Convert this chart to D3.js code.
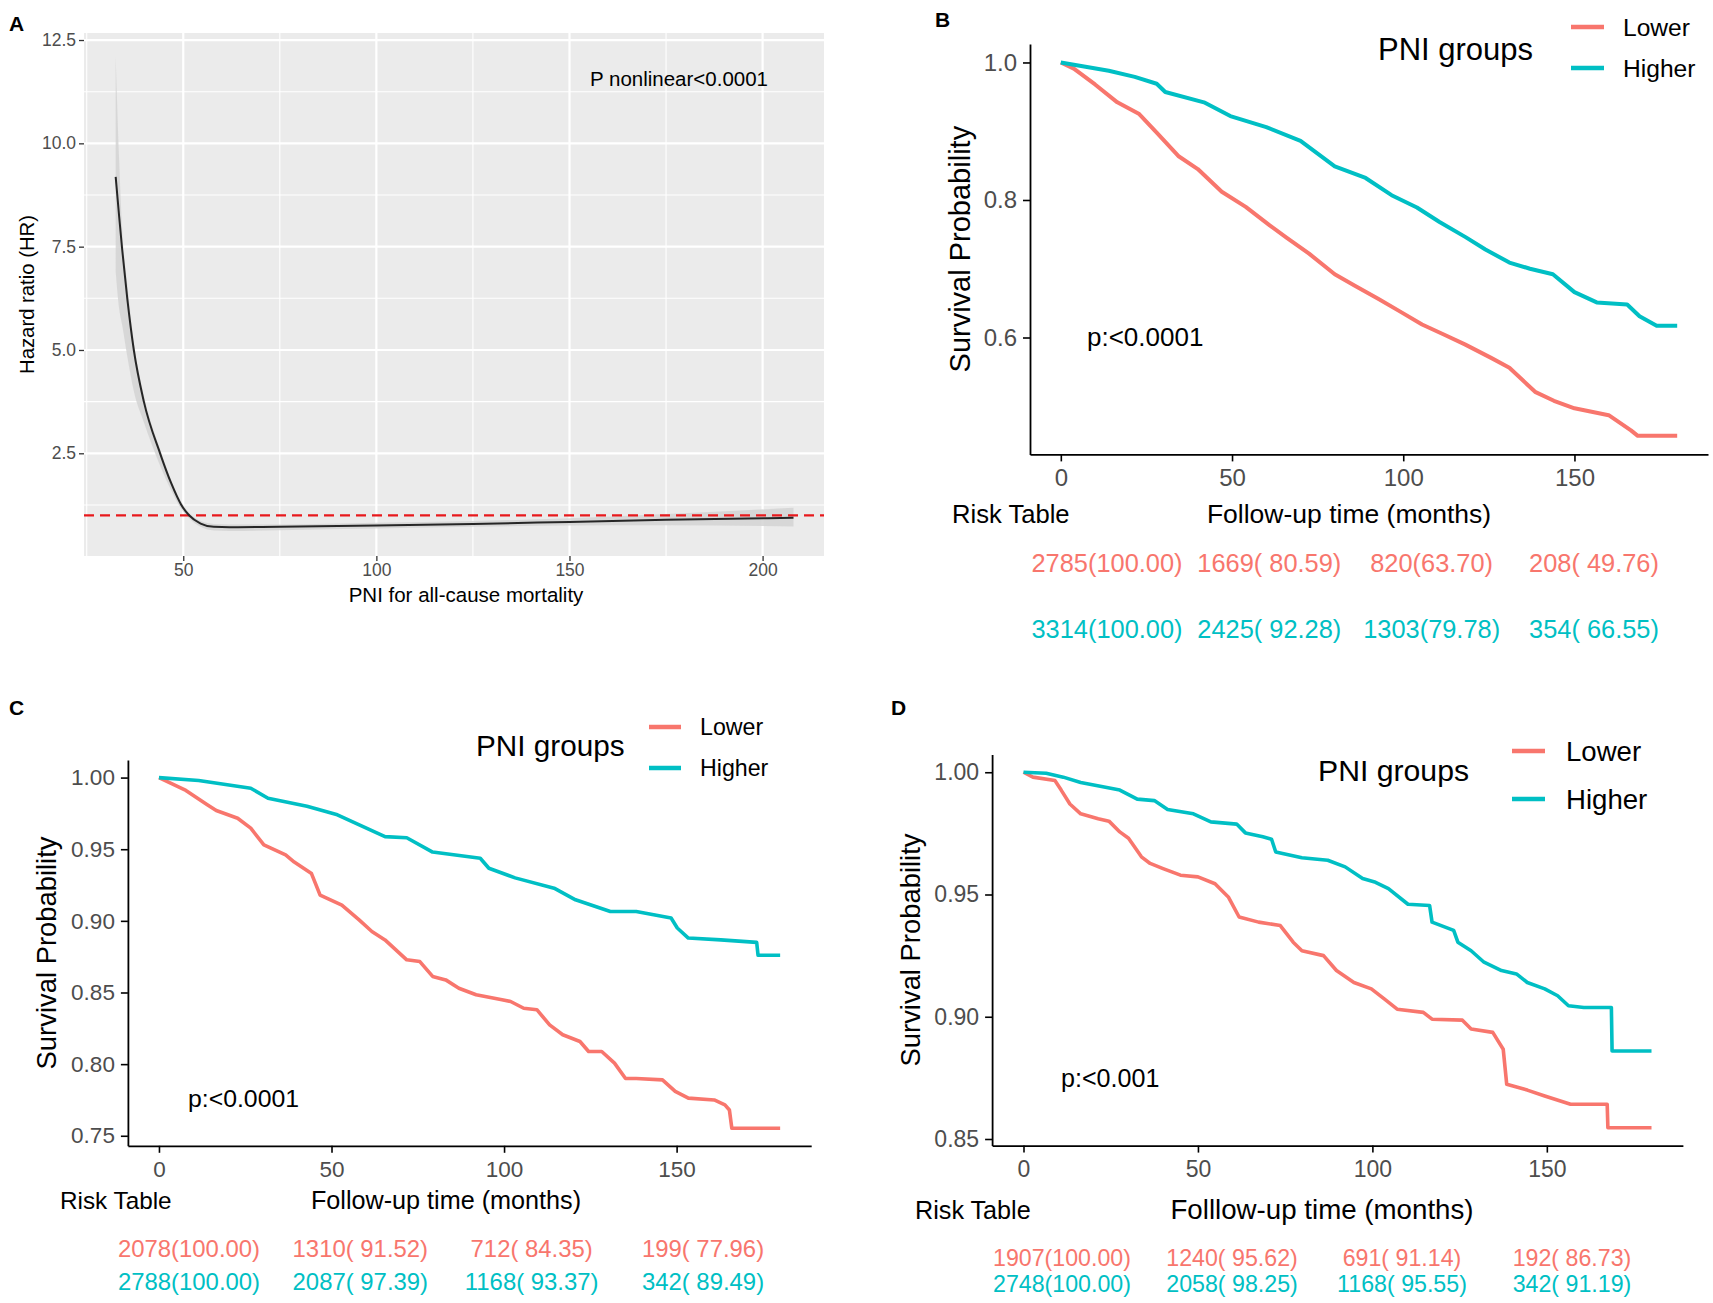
<!DOCTYPE html>
<html lang="en">
<head>
<meta charset="utf-8">
<title>PNI and mortality</title>
<style>
  body { margin: 0; background: #fff; }
  svg text { font-family: "Liberation Sans", Arial, Helvetica, sans-serif; }
</style>
</head>
<body>
<div id="chart"></div>
<script src="https://d3js.org/d3.v7.min.js"></script>
<script>
// ---------- panel A: restricted cubic spline, HR vs PNI ----------
const pniX   = [32.5, 33.4, 34.2, 35.5, 37.2, 39.8, 44.0, 46.9, 49.5, 51.5, 54.5, 57.9, 62, 75, 100, 125, 150, 175, 208];
const hrFit  = [9.19, 8.23, 7.42, 6.25, 5.0, 3.75, 2.5, 1.77, 1.25, 1.0, 0.80, 0.72, 0.71, 0.72, 0.75, 0.79, 0.84, 0.89, 0.94];
const hrLow  = [6.9, 6.0, 5.6, 4.85, 4.0, 3.25, 2.2, 1.6, 1.15, 0.93, 0.72, 0.63, 0.62, 0.64, 0.68, 0.72, 0.75, 0.76, 0.73];
const hrHigh = [12.1, 9.6, 7.9, 6.6, 5.2, 3.9, 2.6, 1.85, 1.32, 1.06, 0.86, 0.79, 0.78, 0.78, 0.82, 0.86, 0.93, 1.03, 1.18];
const aTicksX = [50, 100, 150, 200];
const aTicksY = [2.5, 5.0, 7.5, 10.0, 12.5];

// ---------- panel B: all-cause ----------
const bLowT  = [0, 3.8, 10, 16.5, 22.9, 28, 34.3, 40, 47, 54, 61, 66, 72.5, 80, 86, 92.8, 99, 105.5, 112, 118, 125.8, 131, 138.5, 144, 150, 160, 166.5, 168.5, 180];
const bLowS  = [1, 0.991, 0.968, 0.942, 0.925, 0.898, 0.864, 0.845, 0.812, 0.790, 0.763, 0.745, 0.722, 0.692, 0.675, 0.656, 0.638, 0.619, 0.604, 0.590, 0.570, 0.556, 0.521, 0.508, 0.497, 0.487, 0.465, 0.457, 0.457];
const bHighT = [0, 14, 21.6, 28, 30.5, 41.8, 49.5, 60, 70, 80, 89, 96.6, 104, 110.6, 118.2, 124, 131, 137, 143.7, 150, 156.5, 165.4, 169, 174, 180];
const bHighS = [1, 0.988, 0.979, 0.969, 0.957, 0.942, 0.922, 0.906, 0.886, 0.849, 0.832, 0.807, 0.789, 0.768, 0.746, 0.728, 0.709, 0.700, 0.692, 0.666, 0.651, 0.648, 0.631, 0.617, 0.617];

// ---------- panel C ----------
const cLowT  = [0, 7.8, 14, 16.6, 22.8, 26.6, 30.4, 36.7, 39.2, 44.2, 46.7, 53, 58, 61.7, 65.5, 71.8, 75.6, 79.3, 83.1, 86.9, 91.9, 99.4, 101.9, 105.7, 109.5, 113.2, 117, 122, 124.5, 128.3, 132, 135.2, 138.3, 145.9, 149.6, 153.4, 160.9, 164, 165.3, 166, 180];
const cLowS  = [1, 0.991, 0.981, 0.977, 0.9716, 0.9647, 0.953, 0.946, 0.941, 0.933, 0.918, 0.911, 0.9007, 0.8926, 0.8867, 0.8728, 0.8716, 0.8612, 0.8588, 0.853, 0.8484, 0.845, 0.8437, 0.839, 0.838, 0.8274, 0.8205, 0.8158, 0.8088, 0.8088, 0.8007, 0.790, 0.790, 0.789, 0.781, 0.7763, 0.775, 0.7716, 0.768, 0.7553, 0.7553];
const cHighT = [0, 11.5, 26.6, 31.6, 42.9, 51.7, 65.5, 71.8, 79.3, 93.1, 95.6, 103.2, 114.5, 120.7, 130.8, 138.3, 148.4, 150.2, 153.4, 162.8, 173.2, 173.6, 180];
const cHighS = [1, 0.998, 0.9926, 0.9856, 0.980, 0.974, 0.9588, 0.958, 0.948, 0.9437, 0.9367, 0.930, 0.9228, 0.9147, 0.9065, 0.9065, 0.902, 0.895, 0.888, 0.8867, 0.885, 0.876, 0.876];

// ---------- panel D ----------
const dLowT  = [0, 2.7, 9, 10.8, 13.3, 16.4, 21.4, 24.5, 27.6, 30.1, 33.8, 36.3, 40, 45, 50, 54.9, 58.7, 61.8, 67.4, 73.6, 77.3, 79.8, 86, 89.7, 94.7, 99.7, 103.4, 107.1, 114.6, 117.1, 125.8, 128.3, 134.5, 137.5, 138.5, 144.4, 149.4, 156.8, 167.3, 167.5, 180];
const dLowS  = [1, 0.998, 0.9966, 0.9927, 0.987, 0.983, 0.981, 0.980, 0.9756, 0.973, 0.9654, 0.9627, 0.9606, 0.9579, 0.9572, 0.9544, 0.949, 0.9408, 0.9387, 0.9373, 0.9305, 0.927, 0.925, 0.9189, 0.914, 0.9114, 0.9073, 0.9031, 0.9018, 0.899, 0.8986, 0.895, 0.8936, 0.8867, 0.8724, 0.870, 0.8676, 0.8642, 0.8642, 0.8546, 0.8546];
const dHighT = [0, 6.5, 11.4, 16.4, 27.6, 32.6, 37.5, 41.3, 48.7, 53.7, 61.1, 63.6, 68.6, 71.1, 72.3, 79.8, 87.2, 92.2, 97.2, 100.9, 104.6, 110.2, 116.4, 117.1, 123.3, 124.5, 128.3, 132, 137, 141.3, 144.4, 149.4, 153.1, 156.2, 160.6, 168.5, 168.7, 180];
const dHighS = [1, 0.9996, 0.998, 0.9958, 0.9927, 0.989, 0.9884, 0.9848, 0.983, 0.9797, 0.9788, 0.9752, 0.9736, 0.9726, 0.9674, 0.965, 0.964, 0.9613, 0.9565, 0.955, 0.9524, 0.946, 0.9455, 0.9387, 0.9353, 0.9305, 0.927, 0.9223, 0.9189, 0.9175, 0.914, 0.9114, 0.9086, 0.9045, 0.9038, 0.9038, 0.886, 0.886];

// risk tables
const riskTimes = [0, 50, 100, 150];
const bLowRisk  = ["2785(100.00)", "1669( 80.59)", "820(63.70)", "208( 49.76)"];
const bHighRisk = ["3314(100.00)", "2425( 92.28)", "1303(79.78)", "354( 66.55)"];
const cLowRisk  = ["2078(100.00)", "1310( 91.52)", "712( 84.35)", "199( 77.96)"];
const cHighRisk = ["2788(100.00)", "2087( 97.39)", "1168( 93.37)", "342( 89.49)"];
const dLowRisk  = ["1907(100.00)", "1240( 95.62)", "691( 91.14)", "192( 86.73)"];
const dHighRisk = ["2748(100.00)", "2058( 98.25)", "1168( 95.55)", "342( 91.19)"];
const groups = ["Lower", "Higher"];

const RED = "#F8766D", TEAL = "#00BFC4";
const W = 1713, H = 1303;

const svg = d3.select("#chart").append("svg")
    .attr("width", W).attr("height", H);
svg.append("rect").attr("width", W).attr("height", H).attr("fill", "#fff");

function zip(xs, ys) { return xs.map((v, i) => [v, ys[i]]); }

function label(g, txt, x, y, size, opts) {
    opts = opts || {};
    return g.append("text")
        .attr("x", x).attr("y", y).attr("dy", "0.35em")
        .attr("font-size", size)
        .attr("text-anchor", opts.anchor || "start")
        .attr("font-weight", opts.bold ? "bold" : null)
        .attr("fill", opts.fill || "#000")
        .attr("transform", opts.rotate ? `rotate(-90,${x},${y})` : null)
        .style("white-space", "pre")
        .text(txt);
}

// panel letters
label(svg, "A", 9, 24, 21, {bold: true});
label(svg, "B", 935, 20, 21, {bold: true});
label(svg, "C", 9, 708, 21, {bold: true});
label(svg, "D", 891, 708, 21, {bold: true});

// ================= panel A =================
(function () {
    const L = 84, R = 824, T = 33, B = 556;
    const x = d3.scaleLinear().domain([24.3, 215.9]).range([L, R]);
    const y = d3.scaleLinear().domain([0.015, 12.67]).range([B, T]);
    const g = svg.append("g");

    g.append("rect").attr("x", L).attr("y", T)
        .attr("width", R - L).attr("height", B - T).attr("fill", "#EBEBEB");

    const minorX = [25, 75, 125, 175], minorY = [1.25, 3.75, 6.25, 8.75, 11.25];
    g.selectAll(".mnx").data(minorX).enter().append("line")
        .attr("x1", d => x(d)).attr("x2", d => x(d)).attr("y1", T).attr("y2", B)
        .attr("stroke", "#fff").attr("stroke-width", 1.1);
    g.selectAll(".mny").data(minorY).enter().append("line")
        .attr("y1", d => y(d)).attr("y2", d => y(d)).attr("x1", L).attr("x2", R)
        .attr("stroke", "#fff").attr("stroke-width", 1.1);
    g.selectAll(".mjx").data(aTicksX).enter().append("line")
        .attr("x1", d => x(d)).attr("x2", d => x(d)).attr("y1", T).attr("y2", B)
        .attr("stroke", "#fff").attr("stroke-width", 2.2);
    g.selectAll(".mjy").data(aTicksY).enter().append("line")
        .attr("y1", d => y(d)).attr("y2", d => y(d)).attr("x1", L).attr("x2", R)
        .attr("stroke", "#fff").attr("stroke-width", 2.2);

    // confidence band
    const band = d3.area()
        .x(d => x(d[0])).y0(d => y(d[1])).y1(d => y(d[2]))
        .curve(d3.curveMonotoneX);
    g.append("path")
        .datum(pniX.map((v, i) => [v, hrLow[i], hrHigh[i]]))
        .attr("d", band).attr("fill", "#D3D3D3").attr("opacity", 0.85);

    // reference line HR = 1
    g.append("line").attr("x1", L).attr("x2", R)
        .attr("y1", y(1)).attr("y2", y(1))
        .attr("stroke", "#E8191C").attr("stroke-width", 2.2)
        .attr("stroke-dasharray", "10,6");

    const fit = d3.line().x(d => x(d[0])).y(d => y(d[1])).curve(d3.curveMonotoneX);
    g.append("path").datum(zip(pniX, hrFit)).attr("d", fit)
        .attr("fill", "none").attr("stroke", "#262626").attr("stroke-width", 2);

    const xa = g.append("g").attr("transform", `translate(0,${B})`)
        .call(d3.axisBottom(x).tickValues(aTicksX).tickSize(5).tickPadding(3).tickFormat(d3.format("d")));
    const ya = g.append("g").attr("transform", `translate(${L},0)`)
        .call(d3.axisLeft(y).tickValues(aTicksY).tickSize(5).tickPadding(3).tickFormat(d3.format(".1f")));
    [xa, ya].forEach(a => {
        a.select(".domain").remove();
        a.selectAll("line").attr("stroke", "#333").attr("stroke-width", 1.3);
        a.selectAll("text").attr("font-size", 17.5).attr("fill", "#4D4D4D");
    });

    label(g, "Hazard ratio (HR)", 27, (T + B) / 2, 20.3, {anchor: "middle", rotate: true});
    label(g, "PNI for all-cause mortality", 466, 595, 20.5, {anchor: "middle"});
    label(g, "P nonlinear<0.0001", 590, 79, 20.5);
})();

// ================= Kaplan-Meier panels =================
function kmPanel(c) {
    const x = d3.scaleLinear().domain([-9, 189]).range(c.xRange);
    const y = d3.scaleLinear().domain(c.yDomain).range(c.yRange);
    const g = svg.append("g");
    const line = d3.line().x(d => x(d[0])).y(d => y(d[1]));

    g.append("path").datum(zip(c.lowT, c.lowS)).attr("d", line)
        .attr("fill", "none").attr("stroke", RED).attr("stroke-width", c.lw)
        .attr("stroke-linejoin", "round");
    g.append("path").datum(zip(c.highT, c.highS)).attr("d", line)
        .attr("fill", "none").attr("stroke", TEAL).attr("stroke-width", c.lw)
        .attr("stroke-linejoin", "round");

    const xa = g.append("g").attr("transform", `translate(0,${c.yRange[0]})`)
        .call(d3.axisBottom(x).tickValues(riskTimes).tickSize(7).tickPadding(8).tickSizeOuter(0));
    const ya = g.append("g").attr("transform", `translate(${c.xRange[0]},0)`)
        .call(d3.axisLeft(y).tickValues(c.yTicks).tickSize(7).tickPadding(6).tickSizeOuter(0)
            .tickFormat(d3.format(c.yFmt)));
    [xa, ya].forEach(a => {
        a.select(".domain").attr("stroke", "#000").attr("stroke-width", 1.8);
        a.selectAll(".tick line").attr("stroke", "#000").attr("stroke-width", 1.6);
        a.selectAll("text").attr("font-size", c.tickFont).attr("fill", "#4D4D4D");
    });

    label(g, "Survival Probability", c.yTitleX, (c.yRange[0] + c.yRange[1]) / 2, c.yTitleFont,
        {anchor: "middle", rotate: true});
    label(g, "PNI groups", c.grpX, c.grpY, c.grpFont);
    groups.forEach((name, i) => {
        g.append("line").attr("x1", c.keyX[0]).attr("x2", c.keyX[1])
            .attr("y1", c.keyY[i]).attr("y2", c.keyY[i])
            .attr("stroke", i === 0 ? RED : TEAL).attr("stroke-width", 4.5);
        label(g, name, c.keyTextX, c.keyY[i], c.keyFont);
    });
    label(g, c.pText, c.pX, c.pY, c.pFont);
    label(g, "Risk Table", c.rtX, c.rtY, c.rtFont);
    label(g, c.xTitle, c.xtX, c.xtY, c.xtFont, {anchor: "middle"});

    const tx = d3.scaleLinear().domain([0, 150]).range(c.tableX);
    [c.lowRisk, c.highRisk].forEach((row, r) => {
        row.forEach((s, i) => {
            label(g, s, tx(riskTimes[i]), c.rowY[r], c.rowFont,
                {anchor: "middle", fill: r === 0 ? RED : TEAL});
        });
    });
}

kmPanel({
    lowT: bLowT, lowS: bLowS, highT: bHighT, highS: bHighS,
    lowRisk: bLowRisk, highRisk: bHighRisk,
    xRange: [1030, 1708], yDomain: [0.430, 1.027], yRange: [454.4, 43.9],
    yTicks: [0.6, 0.8, 1.0], yFmt: ".1f", tickFont: 24, lw: 4,
    yTitleX: 960, yTitleFont: 29,
    grpX: 1378, grpY: 49, grpFont: 31,
    keyX: [1571, 1604], keyTextX: 1623, keyY: [27, 68], keyFont: 24.6,
    pText: "p:<0.0001", pX: 1087, pY: 337, pFont: 26,
    rtX: 952, rtY: 514, rtFont: 25.6,
    xTitle: "Follow-up time (months)", xtX: 1349, xtY: 514, xtFont: 26.5,
    tableX: [1107, 1594], rowY: [563, 629], rowFont: 25.4
});

kmPanel({
    lowT: cLowT, lowS: cLowS, highT: cHighT, highS: cHighS,
    lowRisk: cLowRisk, highRisk: cHighRisk,
    xRange: [127.9, 811.2], yDomain: [0.743, 1.0122], yRange: [1145.8, 760.1],
    yTicks: [0.75, 0.80, 0.85, 0.90, 0.95, 1.00], yFmt: ".2f", tickFont: 22.5, lw: 3.6,
    yTitleX: 46, yTitleFont: 27.4,
    grpX: 476, grpY: 746, grpFont: 29.7,
    keyX: [649, 681], keyTextX: 700, keyY: [727, 768], keyFont: 23.2,
    pText: "p:<0.0001", pX: 188, pY: 1098.6, pFont: 24.8,
    rtX: 60, rtY: 1200, rtFont: 24.3,
    xTitle: "Follow-up time (months)", xtX: 446, xtY: 1200, xtFont: 25.2,
    tableX: [189, 703], rowY: [1249, 1282], rowFont: 23.9
});

kmPanel({
    lowT: dLowT, lowS: dLowS, highT: dHighT, highS: dHighS,
    lowRisk: dLowRisk, highRisk: dHighRisk,
    xRange: [992.1, 1682.9], yDomain: [0.8473, 1.0073], yRange: [1145.6, 754.4],
    yTicks: [0.85, 0.90, 0.95, 1.00], yFmt: ".2f", tickFont: 23, lw: 3.6,
    yTitleX: 910, yTitleFont: 27.4,
    grpX: 1318, grpY: 770, grpFont: 30.2,
    keyX: [1512, 1545], keyTextX: 1566, keyY: [751, 799], keyFont: 27.6,
    pText: "p:<0.001", pX: 1061, pY: 1078, pFont: 25.1,
    rtX: 915, rtY: 1210, rtFont: 25.2,
    xTitle: "Folllow-up time (months)", xtX: 1322, xtY: 1209, xtFont: 27.7,
    tableX: [1062, 1572], rowY: [1258, 1284], rowFont: 23.2
});
</script>
</body>
</html>
